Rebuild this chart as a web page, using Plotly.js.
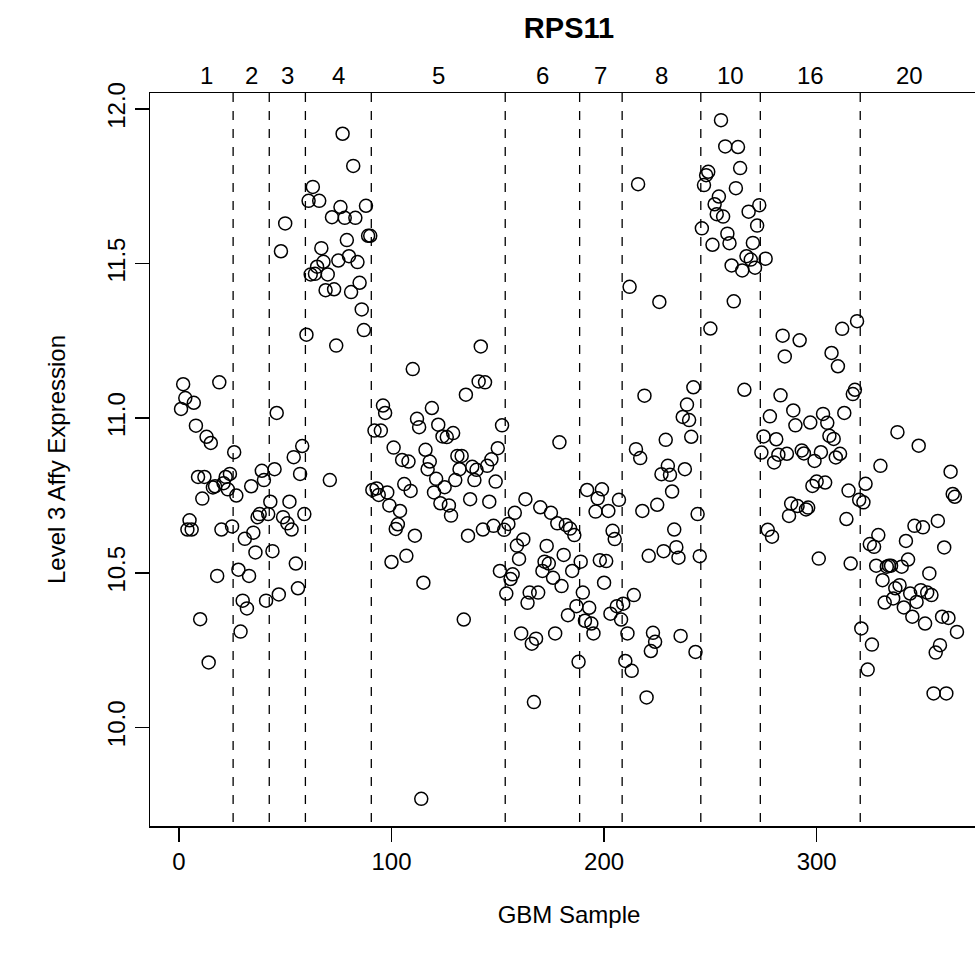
<!DOCTYPE html>
<html>
<head>
<meta charset="utf-8">
<script src="https://cdn.plot.ly/plotly-3.0.1.min.js"></script>
<style>
html, body { margin: 0; padding: 0; overflow: hidden; background: #ffffff; }
#chart { width: 1001px; height: 969px; }
</style>
</head>
<body>
<div id="chart"></div>
<script>
// Chromosome group labels (top of chart)
const chromLabels = ["1", "2", "3", "4", "5", "6", "7", "8", "10", "16", "20"];

// Expression values per chromosome group, in sample order
const chr1 = [11.03, 11.11, 11.065, 10.64, 10.67, 10.64, 11.05, 10.976, 10.81, 10.35, 10.74, 10.81, 10.94, 10.21, 10.92, 10.776, 10.78, 10.49, 11.116, 10.64, 10.79, 10.81, 10.77, 10.82, 10.65];
const chr2 = [10.89, 10.75, 10.51, 10.31, 10.41, 10.61, 10.385, 10.49, 10.78, 10.63, 10.566, 10.68, 10.69, 10.83, 10.80, 10.41, 10.69];
const chr3 = [10.73, 10.57, 10.835, 11.017, 10.43, 11.54, 10.68, 11.63, 10.66, 10.73, 10.64, 10.874, 10.53, 10.45, 10.82, 10.91, 10.69];
const chr4 = [11.27, 11.703, 11.465, 11.748, 11.467, 11.49, 11.703, 11.55, 11.506, 11.414, 11.465, 10.80, 11.65, 11.417, 11.235, 11.51, 11.683, 11.92, 11.648, 11.576, 11.524, 11.408, 11.816, 11.648, 11.505, 11.438, 11.352, 11.285, 11.687, 11.59, 11.59];
const chr5 = [10.768, 10.96, 10.773, 10.752, 10.96, 11.041, 11.017, 10.76, 10.718, 10.535,
              10.905, 10.642, 10.657, 10.70, 10.865, 10.787, 10.555, 10.86, 10.765, 11.159,
              10.62, 10.998, 10.971, 9.769, 10.468, 10.898, 10.835, 10.86, 11.033, 10.76,
              10.804, 10.979, 10.725, 10.941, 10.777, 10.939, 10.718, 10.685, 10.952, 10.80,
              10.878, 10.835, 10.878, 10.349, 11.076, 10.62, 10.738, 10.843, 10.80, 10.833,
              11.119, 11.232, 10.64, 11.116, 10.846, 10.73, 10.867, 10.652, 10.795, 10.903,
              10.506, 10.977, 10.639];
const chr6 = [10.433, 10.658, 10.48, 10.495, 10.694, 10.588, 10.545, 10.304, 10.608, 10.738,
              10.403, 10.436, 10.271, 10.082, 10.287, 10.436, 10.712, 10.506, 10.536, 10.587,
              10.53, 10.694, 10.484, 10.304, 10.66, 10.922, 10.457, 10.558, 10.655, 10.363,
              10.643, 10.506, 10.622, 10.392, 10.212];
const chr7 = [10.536, 10.436, 10.345, 10.768, 10.387, 10.336, 10.304, 10.698, 10.741, 10.541, 10.77, 10.468, 10.538, 10.70, 10.368, 10.636, 10.609, 10.392, 10.736, 10.349];
const chr8 = [10.40, 10.215, 10.304, 11.425, 10.183, 10.428, 10.90, 11.757, 10.871, 10.70,
              11.073, 10.097, 10.555, 10.247, 10.306, 10.277, 10.72, 11.376, 10.819, 10.57,
              10.93, 10.846, 10.817, 10.763, 10.64, 10.583, 10.549, 10.296, 11.004, 10.835,
              11.044, 10.994, 10.94, 11.10, 10.244, 10.69, 10.554];
const chr10 = [11.614, 11.754, 11.786, 11.797, 11.29, 11.561, 11.692, 11.66, 11.717, 11.964,
               11.652, 11.879, 11.597, 11.566, 11.494, 11.378, 11.744, 11.877, 11.809, 11.478,
               11.092, 11.524, 11.668, 11.513, 11.567, 11.487, 11.623, 11.689];
const chr16 = [10.889, 10.941, 11.516, 10.639, 11.006, 10.617, 10.857, 10.932, 10.882, 11.074,
               11.267, 11.20, 10.885, 10.684, 10.724, 11.025, 10.977, 10.716, 11.252, 10.896,
               10.886, 10.705, 10.711, 10.986, 10.781, 10.862, 10.795, 10.546, 10.89, 11.014,
               10.792, 10.985, 10.943, 11.211, 10.933, 10.873, 11.168, 10.885, 11.289, 11.017,
               10.674, 10.766, 10.53, 11.078, 11.092, 11.314, 10.736];
const chr20 = [10.32, 10.728, 10.788, 10.187, 10.593, 10.268, 10.584, 10.523, 10.622, 10.846,
               10.476, 10.404, 10.52, 10.523, 10.523, 10.417, 10.45, 10.955, 10.46, 10.52,
               10.388, 10.603, 10.543, 10.433, 10.358, 10.652, 10.406, 10.911, 10.444, 10.647,
               10.336, 10.436, 10.498, 10.428, 10.11, 10.242, 10.668, 10.266, 10.358, 10.582,
               10.11, 10.354, 10.827, 10.755, 10.746, 10.309];

// Axis ticks
const xTicks = [0, 100, 200, 300];
const yTicks = [10.0, 10.5, 11.0, 11.5, 12.0];

const groups = [chr1, chr2, chr3, chr4, chr5, chr6, chr7, chr8, chr10, chr16, chr20];
const yVals = [].concat(...groups);
const xVals = yVals.map((_, i) => i + 1);   // sample number
const n = yVals.length;

// Group boundaries (in sample units)
const bounds = [];
let cum = 0;
groups.forEach(g => { cum += g.length; bounds.push(cum); });

const shapes = bounds.slice(0, -1).map(b => ({
  type: "line", xref: "x", yref: "paper",
  x0: b + 0.5, x1: b + 0.5, y0: 1, y1: 0,
  line: { color: "#000000", width: 1.3, dash: "9px,9px" }
}));

const annotations = chromLabels.map((lab, k) => {
  const start = k === 0 ? 0.5 : bounds[k - 1] + 0.5;
  const end = bounds[k] + 0.5;
  return {
    text: lab, x: (start + end) / 2, xref: "x", y: 1, yref: "paper",
    yanchor: "bottom", xanchor: "center", showarrow: false, yshift: 2,
    font: { family: "Liberation Sans, Arial, sans-serif", size: 24, color: "#000" }
  };
});

// R-style 4% padding of the data range
const pad = 0.04 * (n - 1);
const xRange = [1 - pad, n + pad];
const yMin = Math.min(...yVals), yMax = Math.max(...yVals);
const yPad = 0.04 * (yMax - yMin);
const yRange = [yMin - yPad, yMax + yPad];

const trace = {
  type: "scatter", mode: "markers",
  x: xVals, y: yVals,
  marker: { symbol: "circle-open", size: 13, color: "#000000", line: { width: 1.5, color: "#000000" } },
  hoverinfo: "x+y"
};

const font = { family: "Liberation Sans, Arial, sans-serif", size: 24, color: "#000000" };

const layout = {
  width: 1001, height: 969,
  margin: { l: 150, r: 13, t: 93, b: 143 },
  paper_bgcolor: "#ffffff", plot_bgcolor: "#ffffff",
  showlegend: false,
  font: font,
  title: {
    text: "<b>RPS11</b>",
    font: { family: "Liberation Sans, Arial, sans-serif", size: 29, color: "#000" },
    x: 0.5, xref: "paper", y: 1 - 28 / 969, yref: "container", yanchor: "middle", xanchor: "center"
  },
  xaxis: {
    range: xRange, showgrid: false, zeroline: false,
    showline: true, linecolor: "#000", linewidth: 1.5, mirror: true,
    ticks: "outside", ticklen: 14, tickwidth: 1.5, tickcolor: "#000",
    tickvals: xTicks, ticktext: xTicks.map(String),
    tickfont: font,
    title: { text: "GBM Sample", font: font, standoff: 32 }
  },
  yaxis: {
    range: yRange, showgrid: false, zeroline: false,
    showline: true, linecolor: "#000", linewidth: 1.5, mirror: false,
    ticks: "outside", ticklen: 14, tickwidth: 1.5, tickcolor: "#000",
    tickvals: yTicks, ticktext: yTicks.map(v => v.toFixed(1)),
    tickangle: -90, tickfont: font,
    title: { text: "Level 3 Affy Expression", font: font, standoff: 30 }
  },
  shapes: shapes,
  annotations: annotations
};

Plotly.newPlot("chart", [trace], layout, { displayModeBar: false, staticPlot: true });
</script>
</body>
</html>
